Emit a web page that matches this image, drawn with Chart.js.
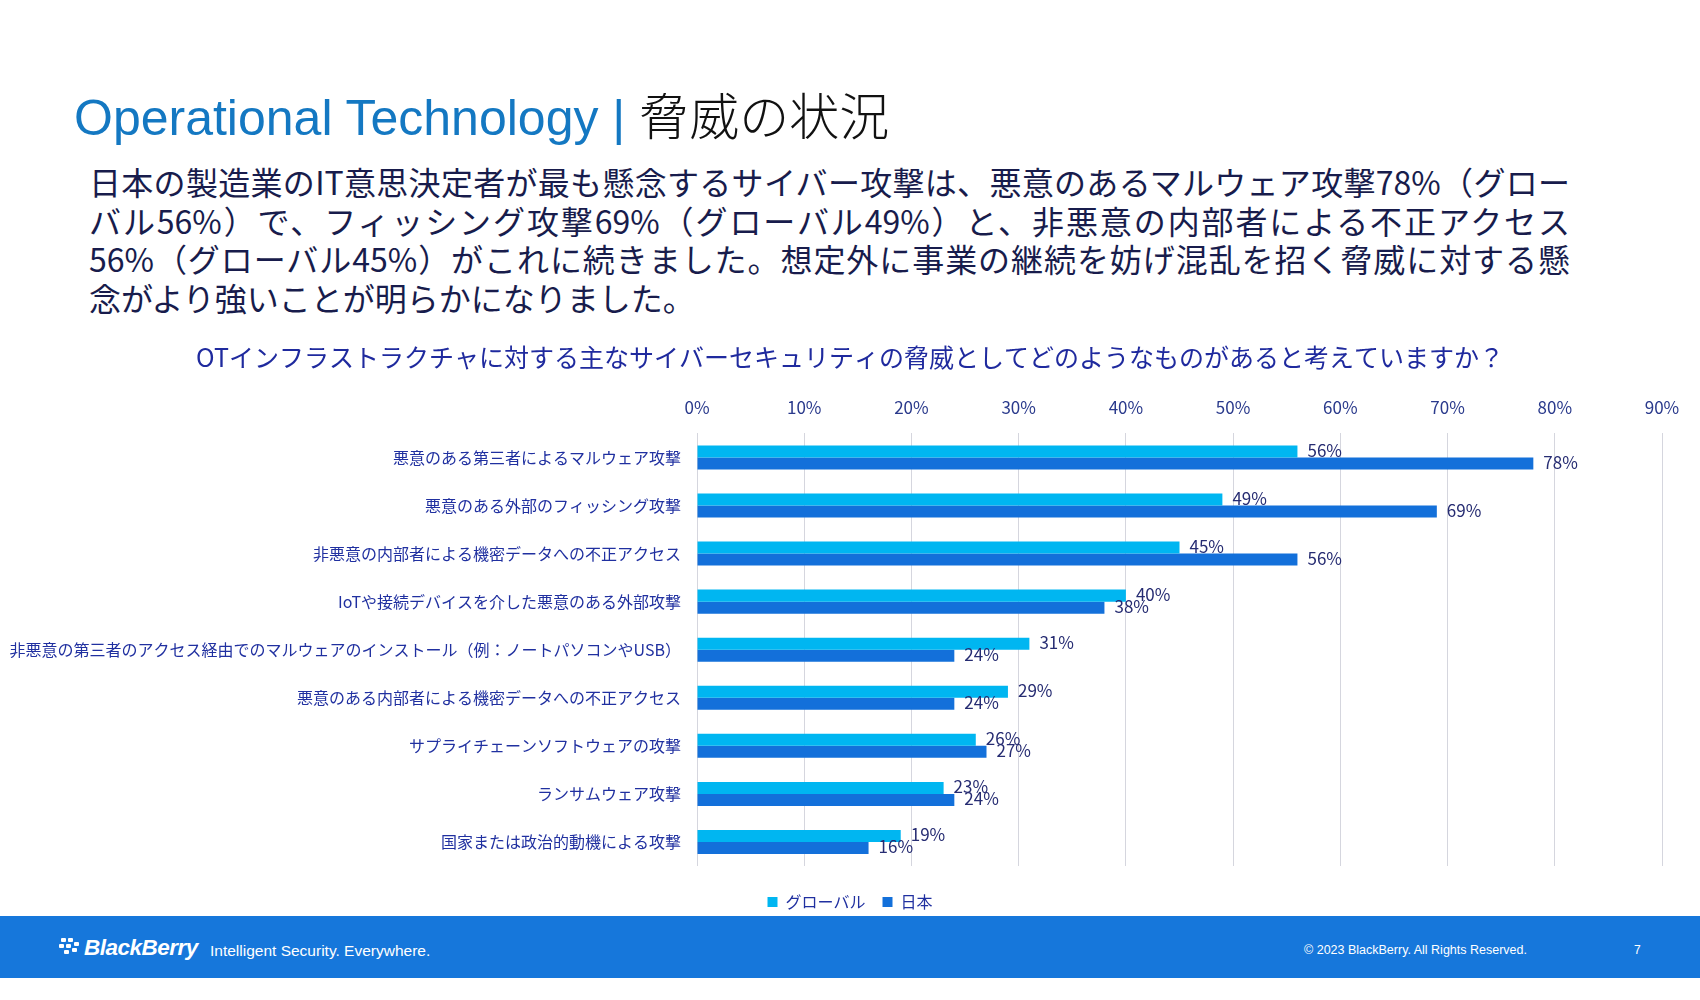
<!DOCTYPE html>
<html lang="ja">
<head>
<meta charset="utf-8">
<title>Operational Technology | 脅威の状況</title>
<script src="https://cdn.jsdelivr.net/npm/chart.js@4.4.1/dist/chart.umd.min.js"></script>
<style>
  html, body { margin: 0; padding: 0; background: #fff; }
  body { width: 1700px; height: 1000px; position: relative; overflow: hidden; font-family: "Noto Sans CJK JP", sans-serif; }
  #title { position: absolute; left: 74px; top: 83px; font-size: 50px; line-height: 60px; white-space: nowrap; }
  #title .en { font-family: "Liberation Sans", Arial, sans-serif; color: #1478C2; }
  #title .ja { font-family: "Noto Sans CJK JP", sans-serif; color: #111; font-weight: 300; }
  #lead { position: absolute; left: 89px; top: 162px; width: 1481px; font-size: 32px; line-height: 38.5px; color: #181C4C; }
  #lead div { white-space: nowrap; text-align: justify; text-align-last: justify; }
  #lead div.last { text-align: left; text-align-last: left; }
  #chartBox { position: absolute; left: 0; top: 330px; }
  #footer { position: absolute; left: 0; top: 916px; width: 1700px; height: 62px; background: #1677DB; color: #fff; font-family: "Liberation Sans", Arial, sans-serif; }
  #footer .logo { position: absolute; left: 58px; top: 20px; }
  #footer .brand { position: absolute; left: 84px; top: 19px; font-size: 22.5px; font-weight: bold; font-style: italic; letter-spacing: -0.5px; }
  #footer .tag { position: absolute; left: 210px; top: 26px; font-size: 15.5px; }
  #footer .copy { position: absolute; left: 1304px; top: 27px; font-size: 12.5px; }
  #footer .page { position: absolute; left: 1634px; top: 27px; font-size: 12px; }
</style>
</head>
<body>
<div id="title"><span class="en">Operational Technology | </span><span class="ja">脅威の状況</span></div>
<div id="lead">
  <div>日本の製造業のIT意思決定者が最も懸念するサイバー攻撃は、悪意のあるマルウェア攻撃78%（グロー</div>
  <div>バル56%）で、フィッシング攻撃69%（グローバル49%）と、非悪意の内部者による不正アクセス</div>
  <div>56%（グローバル45%）がこれに続きました。想定外に事業の継続を妨げ混乱を招く脅威に対する懸</div>
  <div class="last">念がより強いことが明らかになりました。</div>
</div>
<div id="chartBox"><canvas id="myChart" width="1700" height="590"></canvas></div>
<div id="footer">
  <svg class="logo" width="24" height="24" viewBox="0 0 24 24">
    <g fill="#fff">
      <rect x="3" y="2" width="5" height="4" rx="1"/><rect x="10" y="2" width="5" height="4" rx="1"/>
      <rect x="1" y="8" width="5" height="4" rx="1"/><rect x="8" y="8" width="5" height="4" rx="1"/><rect x="16" y="6" width="5" height="4" rx="1"/>
      <rect x="6" y="14" width="5" height="4" rx="1"/><rect x="14" y="12" width="5" height="4" rx="1"/>
    </g>
  </svg>
  <span class="brand">BlackBerry</span>
  <span class="tag">Intelligent Security. Everywhere.</span>
  <span class="copy">© 2023 BlackBerry. All Rights Reserved.</span>
  <span class="page">7</span>
</div>
<script>
const labels = [
  '悪意のある第三者によるマルウェア攻撃',
  '悪意のある外部のフィッシング攻撃',
  '非悪意の内部者による機密データへの不正アクセス',
  'IoTや接続デバイスを介した悪意のある外部攻撃',
  '非悪意の第三者のアクセス経由でのマルウェアのインストール（例：ノートパソコンやUSB）',
  '悪意のある内部者による機密データへの不正アクセス',
  'サプライチェーンソフトウェアの攻撃',
  'ランサムウェア攻撃',
  '国家または政治的動機による攻撃',
]
const globalValues = [56, 49, 45, 40, 31, 29, 26, 23, 19]
const japanValues = [78, 69, 56, 38, 24, 24, 27, 24, 16]
const seriesNames = ['グローバル', '日本']

const jpFont = '"Noto Sans CJK JP", sans-serif'

// value labels to the right of each bar
const barLabels = {
  id: 'barLabels',
  afterDatasetsDraw: function (chart) {
    const ctx = chart.ctx
    ctx.save()
    ctx.font = '17px ' + jpFont
    ctx.fillStyle = '#262C72'
    ctx.textBaseline = 'middle'
    ctx.textAlign = 'left'
    chart.data.datasets.forEach(function (ds, i) {
      chart.getDatasetMeta(i).data.forEach(function (bar, j) {
        ctx.fillText(ds.data[j] + '%', bar.x + 10, bar.y - 1)
      })
    })
    ctx.restore()
  },
}

const ctx = document.getElementById('myChart')
const myChart = new Chart(ctx, {
  type: 'bar',
  data: {
    labels: labels,
    datasets: [
      {
        label: seriesNames[0],
        data: globalValues,
        backgroundColor: '#00B6F1',
        borderWidth: 0,
        barPercentage: 1,
        categoryPercentage: 0.5,
      },
      {
        label: seriesNames[1],
        data: japanValues,
        backgroundColor: '#1370DA',
        borderWidth: 0,
        barPercentage: 1,
        categoryPercentage: 0.5,
      },
    ],
  },
  options: {
    indexAxis: 'y',
    responsive: false,
    animation: false,
    scales: {
      x: {
        position: 'top',
        min: 0,
        max: 90,
        ticks: {
          stepSize: 10,
          padding: 16,
          color: '#2A3A8C',
          font: { family: jpFont, size: 17 },
          callback: function (v) { return v + '%' },
        },
        grid: { color: '#D5D6DE', drawTicks: false },
        border: { display: false },
      },
      y: {
        ticks: {
          padding: 8,
          color: '#2030A0',
          font: { family: jpFont, size: 16 },
        },
        grid: { display: false },
        border: { display: false },
        afterFit: function (scale) { scale.width = 697 },
      },
      // empty spacers: keep the plot inside 0%..90% while title and legend stay centred
      yRight: {
        type: 'linear',
        axis: 'y',
        position: 'right',
        ticks: { display: false },
        grid: { display: false },
        border: { display: false },
        afterFit: function (scale) { scale.width = 38 },
      },
      xBottom: {
        type: 'linear',
        axis: 'x',
        position: 'bottom',
        ticks: { display: false },
        grid: { display: false },
        border: { display: false },
        afterFit: function (scale) { scale.height = 11 },
      },
    },
    plugins: {
      title: {
        display: true,
        text: 'OTインフラストラクチャに対する主なサイバーセキュリティの脅威としてどのようなものがあると考えていますか？',
        color: '#1F2A9E',
        font: { family: jpFont, size: 25, weight: 'normal' },
        padding: { top: 12, bottom: 9 },
      },
      legend: {
        position: 'bottom',
        labels: {
          boxWidth: 10,
          boxHeight: 10,
          padding: 17,
          color: '#2030A0',
          font: { family: jpFont, size: 16 },
        },
      },
      tooltip: { enabled: false },
    },
  },
  plugins: [barLabels],
})
</script>
</body>
</html>
